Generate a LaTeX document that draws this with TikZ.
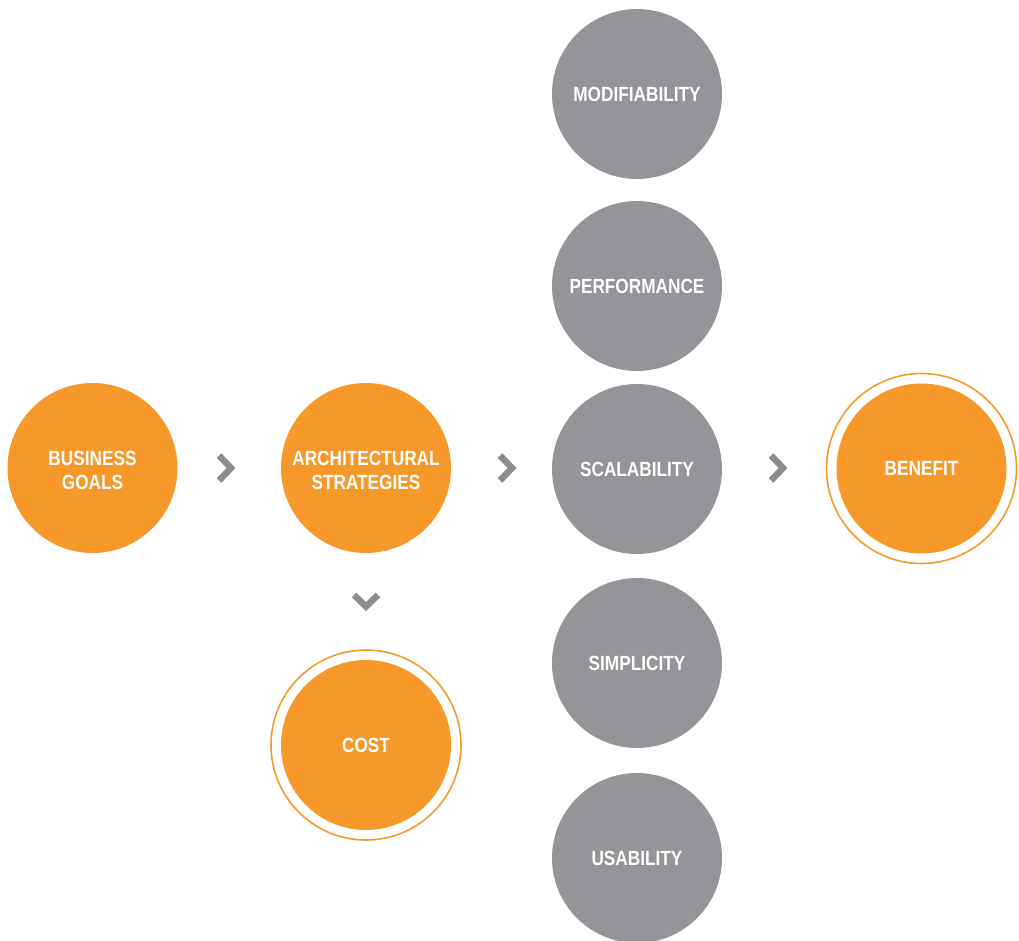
\documentclass[tikz,border=0pt]{standalone}
\usepackage{fontspec}
\setmainfont{Liberation Sans}[FakeStretch=0.84]
\definecolor{orng}{HTML}{F7992A}
\definecolor{gry}{HTML}{939598}
\definecolor{chev}{HTML}{8C8D90}
\begin{document}
\begin{tikzpicture}[x=1pt,y=-1pt,
  ball/.style={circle,minimum size=170pt,inner sep=0pt,text=white,align=center,
    font=\fontsize{20.5}{24}\selectfont\bfseries},
  orangeball/.style={ball,fill=orng},
  grayball/.style={ball,fill=gry},
  ring/.style={circle,draw=orng,line width=1.6pt,minimum size=190pt,inner sep=0pt},
  chevron/.style={draw=chev,line width=6.5pt,line cap=butt,line join=miter}]
\useasboundingbox (0,0) rectangle (1019,941);
\node[orangeball] (bg) at (92.5,468) {};
\node[ball,yshift=-2pt] (bgtext) at (bg.center) {BUSINESS\\GOALS};
\node[orangeball] (as) at (366,468) {};
\node[ball,yshift=-2pt] (astext) at (as.center) {ARCHITECTURAL\\STRATEGIES};
\node[grayball] (mod) at (637,94) {MODIFIABILITY};
\node[grayball] (perf) at (637,286) {PERFORMANCE};
\node[grayball] (scal) at (637,469) {SCALABILITY};
\node[grayball] (simp) at (637,663) {SIMPLICITY};
\node[grayball] (usab) at (637,858) {USABILITY};
\node[ring] (benring) at (921.5,468.5) {};
\node[orangeball] (ben) at (921.5,468.5) {BENEFIT};
\node[ring] (costring) at (366,745) {};
\node[orangeball] (cost) at (366,745) {COST};
\draw[chevron] (219,455.5) -- (231,468) -- (219,480.5);
\draw[chevron] (500,455.5) -- (512,468) -- (500,480.5);
\draw[chevron] (771,455.5) -- (783,468) -- (771,480.5);
\draw[chevron] (354,595) -- (366,606.5) -- (378,595);
\end{tikzpicture}
\end{document}
